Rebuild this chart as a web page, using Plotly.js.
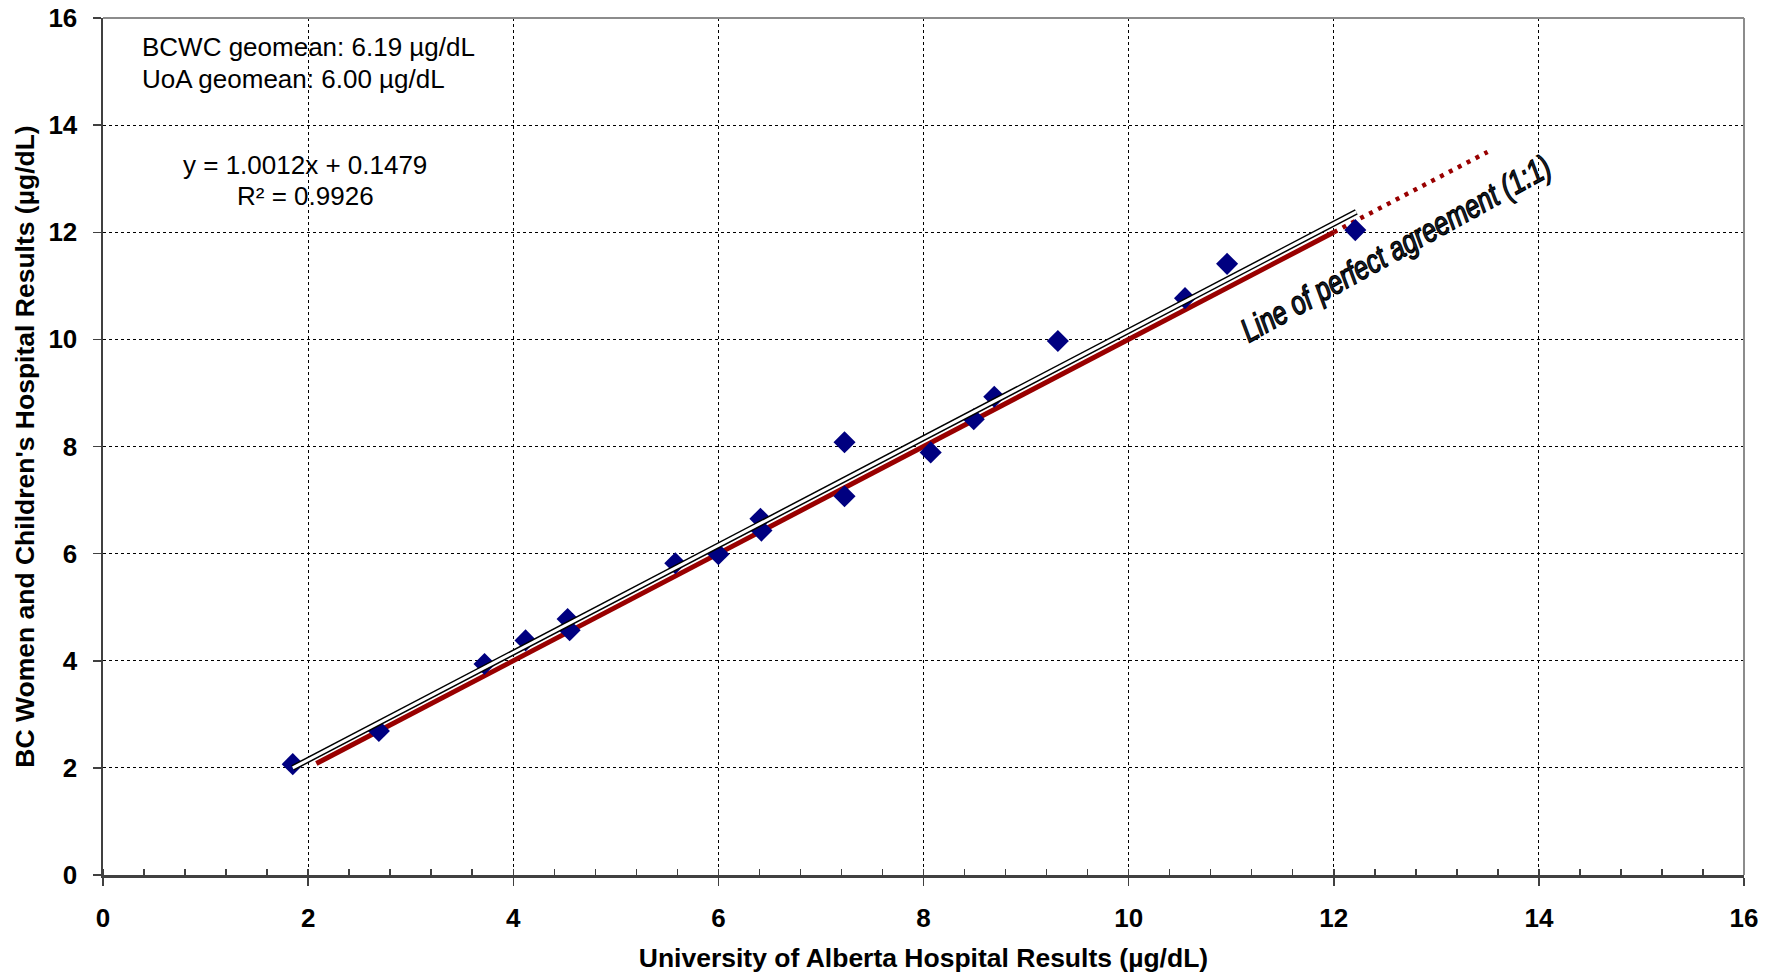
<!DOCTYPE html>
<html>
<head>
<meta charset="utf-8">
<script src="https://cdn.plot.ly/plotly-3.0.1.min.js"></script>
<style>html,body{margin:0;padding:0;background:#fff;}#chart{width:1777px;height:973px;}</style>
</head>
<body>
<div id="chart"></div>
<script>
// Measured pairs: University of Alberta (x) vs BC Women and Children's (y), µg/dL
const uoaResults  = [1.85, 2.69, 3.72, 4.12, 4.53, 4.55, 5.58, 6.00, 6.41, 6.42, 7.23, 7.23, 8.07, 8.49, 8.69, 9.31, 10.55, 10.96, 12.21];
const bcwcResults = [2.07, 2.69, 3.94, 4.38, 4.78, 4.57, 5.82, 5.99, 6.65, 6.43, 8.08, 7.07, 7.89, 8.51, 8.93, 9.97, 10.77, 11.41, 12.04];

// Linear trendline end points (y = 1.0012x + 0.1479)
const trendX = [1.85, 12.22];
const trendY = [2.00, 12.38];

// Line of perfect agreement (1:1): solid part and dotted extension
const idealSolidX = [2.08, 12.0];
const idealSolidY = [2.08, 12.0];
const idealDotX = [12.0, 13.5];
const idealDotY = [12.0, 13.5];

const axisTicks = [0, 2, 4, 6, 8, 10, 12, 14, 16];

const statsLines = ["BCWC geomean: 6.19 µg/dL", "UoA geomean: 6.00 µg/dL"];
const eqLines = ["y = 1.0012x + 0.1479", "R² = 0.9926"];
const lineLabel = "Line of perfect agreement (1:1)";

const FONT = "Liberation Sans, Arial, sans-serif";

const traces = [
  {x: idealSolidX, y: idealSolidY, mode: 'lines', line: {color: '#990000', width: 5}, hoverinfo: 'skip', showlegend: false},
  {x: idealDotX, y: idealDotY, mode: 'lines', line: {color: '#990000', width: 4.5, dash: '4px,6px'}, hoverinfo: 'skip', showlegend: false},
  {x: uoaResults, y: bcwcResults, mode: 'markers', type: 'scatter',
   marker: {symbol: 'diamond', size: 17, color: '#000080', line: {width: 0}}, showlegend: false},
  {x: trendX, y: trendY, mode: 'lines', line: {color: '#000000', width: 6}, hoverinfo: 'skip', showlegend: false},
  {x: trendX, y: trendY, mode: 'lines', line: {color: '#ffffff', width: 3}, hoverinfo: 'skip', showlegend: false}
];

const layout = {
  width: 1777, height: 973,
  margin: {l: 103, r: 33, t: 18, b: 98},
  paper_bgcolor: '#ffffff', plot_bgcolor: '#ffffff',
  showlegend: false,
  font: {family: FONT, color: '#000000'},
  xaxis: {
    range: [0, 16], tickvals: axisTicks, ticktext: axisTicks.map(String),
    showgrid: true, gridcolor: '#000000', gridwidth: 1, griddash: 'dot',
    zeroline: false, showline: true, linecolor: '#404040', linewidth: 2.5,
    ticks: 'outside', ticklen: 8, tickwidth: 1.5, tickcolor: '#404040',
    minor: {dtick: 0.4, ticks: 'inside', ticklen: 6, tickwidth: 1.5, tickcolor: '#404040', showgrid: false},
    tickfont: {family: FONT, size: 26, weight: 'bold', color: '#000000'},
    ticklabelstandoff: 10,
    title: {text: 'University of Alberta Hospital Results (µg/dL)', font: {family: FONT, size: 26.5, weight: 'bold', color: '#000000'}, standoff: 20},
    automargin: false, fixedrange: true
  },
  yaxis: {
    range: [0, 16], tickvals: axisTicks, ticktext: axisTicks.map(String),
    showgrid: true, gridcolor: '#000000', gridwidth: 1, griddash: 'dot',
    zeroline: false, showline: true, linecolor: '#404040', linewidth: 2.5,
    ticks: 'outside', ticklen: 8, tickwidth: 1.5, tickcolor: '#404040',
    tickfont: {family: FONT, size: 26, weight: 'bold', color: '#000000'},
    ticklabelstandoff: 10,
    title: {text: "BC Women and Children's Hospital Results (µg/dL)", font: {family: FONT, size: 26.5, weight: 'bold', color: '#000000'}, standoff: 6},
    automargin: false, fixedrange: true
  },
  shapes: [
    {type: 'line', xref: 'paper', yref: 'paper', x0: 0, x1: 1, y0: 1, y1: 1, line: {color: '#8c8c8c', width: 2}},
    {type: 'line', xref: 'paper', yref: 'paper', x0: 1, x1: 1, y0: 0, y1: 1, line: {color: '#8c8c8c', width: 2}}
  ],
  annotations: [
    {x: 0.36, y: 15.46, xref: 'x', yref: 'y', text: statsLines[0], showarrow: false, xanchor: 'left', yanchor: 'middle', font: {family: FONT, size: 26, color: '#000000'}},
    {x: 0.36, y: 14.87, xref: 'x', yref: 'y', text: statsLines[1], showarrow: false, xanchor: 'left', yanchor: 'middle', font: {family: FONT, size: 26, color: '#000000'}},
    {x: 1.97, y: 13.25, xref: 'x', yref: 'y', text: eqLines[0], showarrow: false, xanchor: 'center', yanchor: 'middle', font: {family: FONT, size: 26, color: '#000000'}},
    {x: 1.97, y: 12.68, xref: 'x', yref: 'y', text: eqLines[1], showarrow: false, xanchor: 'center', yanchor: 'middle', font: {family: FONT, size: 26, color: '#000000'}},
    {x: 12.6, y: 11.7, xref: 'x', yref: 'y', text: lineLabel, showarrow: false, textangle: -29, xanchor: 'center', yanchor: 'middle',
     font: {family: FONT, size: 33, style: 'italic', color: '#1b2838'}}
  ]
};

Plotly.newPlot('chart', traces, layout, {displayModeBar: false, staticPlot: true}).then(function () {
  // Emulate the condensed (narrow) outlined face of the 1:1 label
  const anns = document.querySelectorAll('#chart .annotation');
  const last = anns[anns.length - 1];
  if (!last) return;
  const t = last.querySelector('text.annotation-text');
  if (!t) return;
  const bb = t.getBBox();
  const cx = bb.x + bb.width / 2;
  t.setAttribute('transform', 'translate(' + cx + ',0) scale(0.77,1) translate(' + (-cx) + ',0)');
  t.style.stroke = '#000000';
  t.style.strokeWidth = '1.4px';
});
</script>
</body>
</html>
